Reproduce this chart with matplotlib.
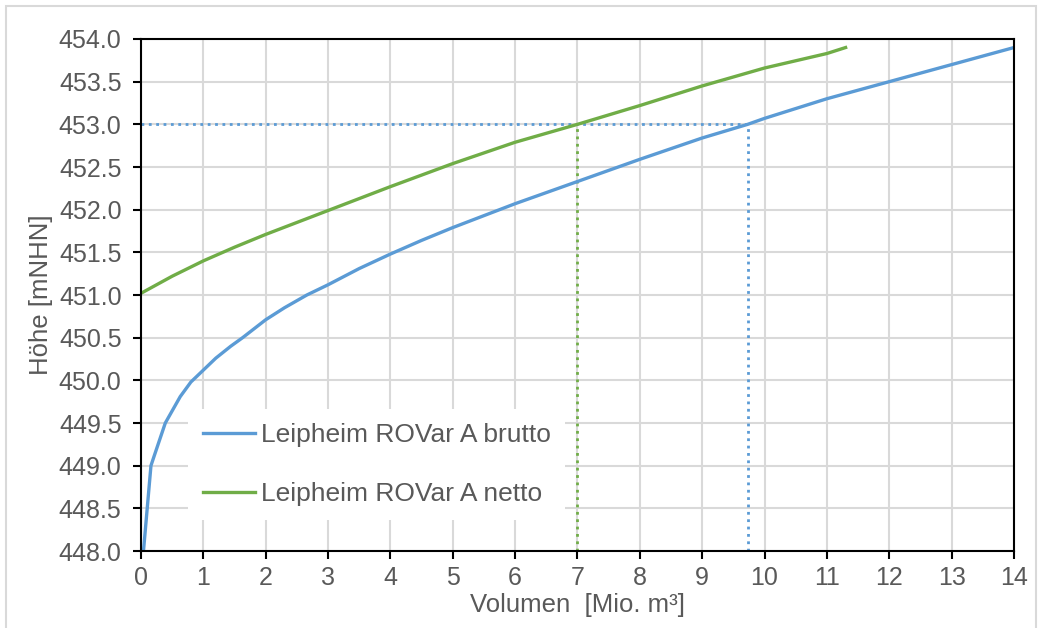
import matplotlib.pyplot as plt
from matplotlib.patches import Rectangle

plt.rcParams['font.family'] = ['Liberation Sans', 'DejaVu Sans']

# Leipheim ROVar A - Speicherinhaltslinien
vol_brutto = [0.04, 0.10, 0.16, 0.21, 0.39, 0.63, 0.8, 1.0, 1.2, 1.44, 1.63, 2.0, 2.3,
              2.66, 3.0, 3.5, 4.0, 4.5, 5.0, 6.0, 7.0, 8.0, 9.0, 9.73, 10.0, 11.0, 12.0, 13.0, 14.0]
hoehe_brutto = [448.0, 448.5, 449.0, 449.11, 449.5, 449.81, 449.98, 450.12, 450.26, 450.4,
                450.5, 450.71, 450.85, 451.0, 451.12, 451.31, 451.48, 451.64, 451.79, 452.07,
                452.33, 452.59, 452.84, 453.0, 453.07, 453.3, 453.5, 453.7, 453.9]

vol_netto = [0.0, 0.5, 1.0, 1.5, 2.0, 2.5, 3.0, 3.5, 4.0, 5.0, 6.0, 7.0, 8.0, 9.0,
             10.0, 11.0, 11.3]
hoehe_netto = [451.02, 451.22, 451.40, 451.56, 451.71, 451.85, 451.99, 452.13, 452.27,
               452.54, 452.79, 453.0, 453.22, 453.45, 453.66, 453.83, 453.9]

# Stauziel und zugehoerige Volumen
stauziel = 453.0
vol_stau_brutto = 9.73
vol_stau_netto = 7.0

blue = '#5B9BD5'
green = '#70AD47'
grey = '#595959'

fig = plt.figure(figsize=(10.42, 6.28), dpi=100)
ax = fig.add_axes([0.1353, 0.1226, 0.8378, 0.8153])

# outer frame
fig.patches.append(Rectangle((6 / 1042, -0.05), 1030 / 1042, 1.05 - 6 / 628,
                             transform=fig.transFigure, fill=False,
                             edgecolor='#D9D9D9', linewidth=1.5))

ax.plot([0, vol_stau_brutto], [stauziel, stauziel], color=blue, linestyle=':', linewidth=2)
ax.plot([vol_stau_brutto, vol_stau_brutto], [448, stauziel], color=blue, linestyle=':', linewidth=2)
ax.plot([vol_stau_netto, vol_stau_netto], [448, stauziel], color=green, linestyle=':', linewidth=2)

ax.plot(vol_brutto, hoehe_brutto, color=blue, linewidth=2.4, label='Leipheim ROVar A brutto')
ax.plot(vol_netto, hoehe_netto, color=green, linewidth=2.4, label='Leipheim ROVar A netto')

ax.set_xlim(0, 14)
ax.set_ylim(448, 454)
ax.set_xticks(range(0, 15))
ax.set_yticks([448 + 0.5 * i for i in range(13)])
ax.set_yticklabels([f'{448 + 0.5 * i:.1f}' for i in range(13)])

ax.grid(True, color='#D9D9D9', linewidth=1.5)
ax.set_axisbelow(True)
for s in ax.spines.values():
    s.set_color('black')
    s.set_linewidth(1.5)

ax.tick_params(axis='both', direction='out', length=6, width=1.5, color='black',
               labelsize=18, labelcolor=grey, pad=8)
ax.tick_params(axis='x', pad=5)

ax.set_xlabel('Volumen  [Mio. m³]', fontsize=18.5, color=grey, labelpad=2)
ax.set_ylabel('Höhe [mNHN]', fontsize=18.5, color=grey, labelpad=4)

leg = ax.legend(loc='lower left', bbox_to_anchor=(0.054, 0.06), fontsize=19,
                frameon=True, facecolor='white', edgecolor='none', framealpha=1,
                fancybox=False, handlelength=2.0, handletextpad=0.2, labelspacing=1.3,
                borderpad=0.55, borderaxespad=0)
for t in leg.get_texts():
    t.set_color(grey)

fig.savefig('out.png', dpi=100)
